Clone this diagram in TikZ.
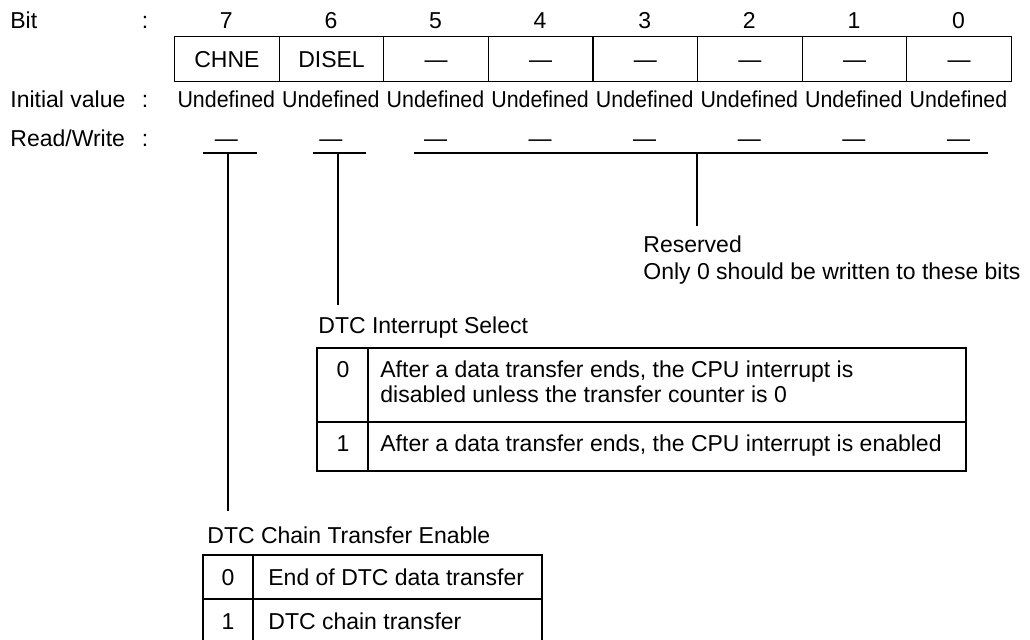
\documentclass[tikz,border=0pt]{standalone}
\usepackage{fontspec}
\setmainfont{Liberation Sans}
\usepackage{graphicx}
\usetikzlibrary{positioning, calc}

\begin{document}
\begin{tikzpicture}[
    x=0.5pt, y=-0.5pt,
    font=\fontsize{11.5}{12.5}\selectfont,
    cell/.style={rectangle, draw=black, line width=0.6pt, minimum width=52.3pt, minimum height=22.5pt, inner sep=0pt, text height=8pt, text depth=0pt, anchor=north west},
    lbl/.style={anchor=base west, inner sep=0pt, align=left},
    num/.style={anchor=base, inner sep=0pt},
    leader/.style={draw=black, line width=0.6pt},
    tbl/.style={draw=black, line width=0.6pt}
]
    \useasboundingbox (0,0) rectangle (1030,639);

    % Row captions
    \node[lbl] (cbit) at (10,28) {Bit};
    \node[num] (kbit) at (145,28) {:};
    \node[lbl] (cinit) at (10,107) {Initial value};
    \node[num] (kinit) at (145,107) {:};
    \node[lbl] (crw) at (10,146) {Read/Write};
    \node[num] (krw) at (145,146) {:};

    % Register bits
    \foreach \b/\fld [count=\i from 0] in {7/CHNE, 6/DISEL, 5/\textemdash, 4/\textemdash, 3/\textemdash, 2/\textemdash, 1/\textemdash, 0/\textemdash} {
        \node[cell] (reg\b) at ({174+104.6*\i},36) {\fld};
        \node[num] (num\b) at ({226.3+104.6*\i},28) {\b};
        \node[num] (init\b) at ({226.3+104.6*\i},107) {\scalebox{0.93}[1]{Undefined}};
        \node[num] (rw\b) at ({226.3+104.6*\i},146) {\textemdash};
    }

    % Brackets under the bits
    \coordinate (u7a) at (203,153); \coordinate (u7b) at (257,153);
    \coordinate (u6a) at (313,153); \coordinate (u6b) at (366,153);
    \coordinate (ura) at (414,153); \coordinate (urb) at (988,153);
    \draw[leader] (u7a) -- (u7b);
    \draw[leader] (u6a) -- (u6b);
    \draw[leader] (ura) -- (urb);

    \coordinate (t7) at (228,153); \coordinate (e7) at (228,511);
    \coordinate (t6) at (338,153); \coordinate (e6) at (338,305);
    \coordinate (tr) at (697,153); \coordinate (er) at (697,226);
    \draw[leader] (t7) -- (e7);
    \draw[leader] (t6) -- (e6);
    \draw[leader] (tr) -- (er);

    % Reserved bits (base = last line)
    \node[lbl, font=\fontsize{11.5}{13.5}\selectfont] (resv) at (643,279) {Reserved\\Only 0 should be written to these bits};

    % DISEL
    \node[lbl] (iselttl) at (318,333) {DTC Interrupt Select};
    \draw[tbl] (317,348) rectangle (966,471);
    \draw[tbl] (317,422) -- (966,422);
    \draw[tbl] (368,348) -- (368,471);
    \node[num] (isel0) at (343,377) {0};
    \node[lbl] (isel0t) at (380,402) {After a data transfer ends, the CPU interrupt is\\disabled unless the transfer counter is 0};
    \node[num] (isel1) at (343,451) {1};
    \node[lbl] (isel1t) at (380,451) {After a data transfer ends, the CPU interrupt is enabled};

    % CHNE
    \node[lbl] (chnttl) at (207,543) {DTC Chain Transfer Enable};
    \draw[tbl] (203,555) rectangle (542,643);
    \draw[tbl] (203,599) -- (542,599);
    \draw[tbl] (253,555) -- (253,643);
    \node[num] (chn0) at (228,585) {0};
    \node[lbl] (chn0t) at (268,585) {End of DTC data transfer};
    \node[num] (chn1) at (228,629) {1};
    \node[lbl] (chn1t) at (268,629) {DTC chain transfer};

\end{tikzpicture}
\end{document}
